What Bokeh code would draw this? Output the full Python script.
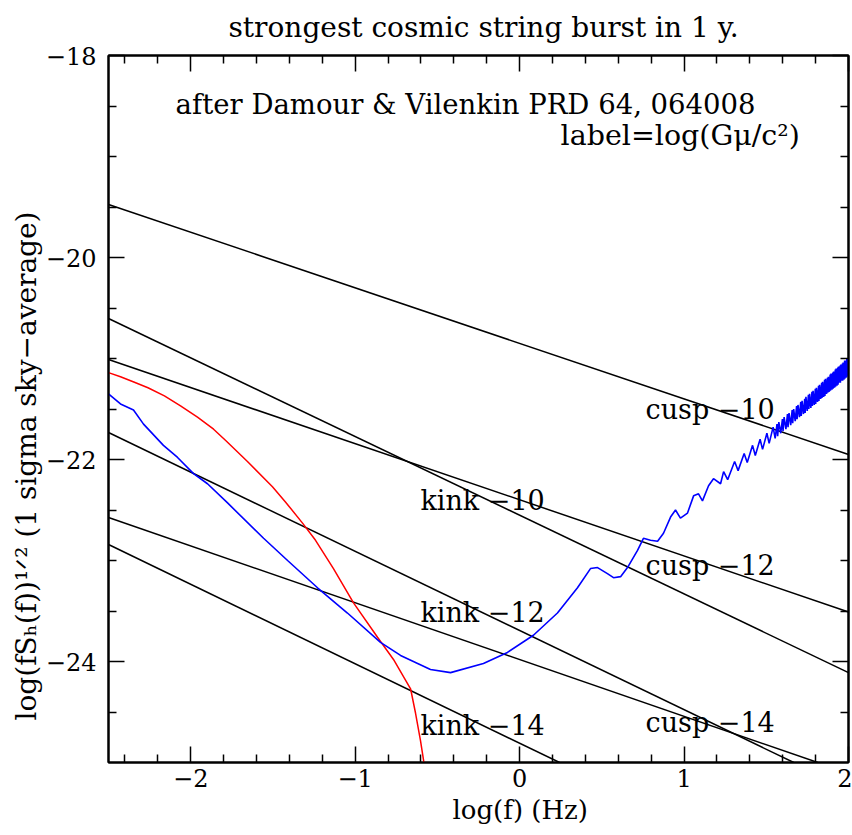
from bokeh.plotting import figure
from bokeh.models import Range1d, LinearAxis, FixedTicker, Label, Title
from bokeh.embed import file_html
from bokeh.resources import INLINE

FONT = "DejaVu Serif"

# ---- data ----
# straight lines: two points each (log f, log amplitude)
cusp10_x = [-2.5, 2.0];   cusp10_y = [-19.475, -21.95]
cusp12_x = [-2.5, 2.0];   cusp12_y = [-21.01, -23.51]
cusp14_x = [-2.5, 1.813]; cusp14_y = [-22.574, -25.0]
kink10_x = [-2.5, 2.0];   kink10_y = [-20.604, -24.11]
kink12_x = [-2.5, 1.667]; kink12_y = [-21.733, -25.0]
kink14_x = [-2.5, 0.243]; kink14_y = [-22.842, -25.0]

red_x = [-2.5, -2.427, -2.35, -2.26, -2.16, -2.062, -1.959, -1.861, -1.789, -1.655, -1.503,
         -1.424, -1.320, -1.241, -1.132, -1.010, -0.864, -0.767, -0.663, -0.633, -0.603,
         -0.584, -0.575]
red_y = [-21.14, -21.18, -21.23, -21.29, -21.37, -21.47, -21.58, -21.70, -21.81, -22.02, -22.27,
         -22.42, -22.63, -22.80, -23.08, -23.42, -23.76, -23.98, -24.27, -24.51, -24.78,
         -24.98, -25.10]

blue_x = [-2.5, -2.427, -2.348, -2.287, -2.166, -2.080, -1.983, -1.898, -1.776, -1.557,
          -1.411, -1.229, -1.047, -0.846, -0.724, -0.542, -0.420, -0.220, -0.074, 0.084,
          0.230, 0.352, 0.431, 0.474, 0.534, 0.571, 0.614, 0.656, 0.717, 0.753,
          0.796, 0.839, 0.875, 0.918, 0.948, 0.978, 1.021, 1.058, 1.088, 1.112,
          1.149, 1.179, 1.222,
          1.2405, 1.2652, 1.3075, 1.3287, 1.3655, 1.3841, 1.4166, 1.4332, 1.4624, 1.4774,
          1.5038, 1.5174,
          1.5416, 1.5540, 1.5652, 1.5691, 1.5763, 1.5879, 1.5982, 1.6018,
          1.6085, 1.6193, 1.6289, 1.6323, 1.6385, 1.6485, 1.6575, 1.6607,
          1.6665, 1.6759, 1.6844, 1.6873, 1.6928, 1.7017, 1.7097, 1.7125,
          1.7177, 1.7260, 1.7336, 1.7363, 1.7412, 1.7490, 1.7562, 1.7587,
          1.7634, 1.7709, 1.7778, 1.7802, 1.7846, 1.7918, 1.7983, 1.8006,
          1.8048, 1.8117, 1.8179, 1.8201, 1.8241, 1.8307, 1.8367, 1.8387,
          1.8426, 1.8489, 1.8546, 1.8566, 1.8603, 1.8664, 1.8719, 1.8738,
          1.8774, 1.8832, 1.8885, 1.8903, 1.8938, 1.8994, 1.9045, 1.9063,
          1.9096, 1.9150, 1.9199, 1.9216, 1.9248, 1.9300, 1.9348, 1.9364,
          1.9395, 1.9446, 1.9492, 1.9508, 1.9538, 1.9586, 1.9631, 1.9646,
          1.9675, 1.9723, 1.9766, 1.9781, 1.9809, 1.9855, 1.9897, 1.9912,
          1.9939, 1.9983, 2.004]
blue_y = [-21.35, -21.45, -21.51, -21.65, -21.86, -21.98, -22.14, -22.24, -22.43, -22.78,
          -23.00, -23.27, -23.52, -23.81, -23.94, -24.08, -24.11, -24.02, -23.91, -23.74,
          -23.52, -23.27, -23.08, -23.07, -23.13, -23.17, -23.16, -23.07, -22.90, -22.78,
          -22.80, -22.81, -22.73, -22.57, -22.50, -22.58, -22.53, -22.36, -22.34, -22.41,
          -22.26, -22.19, -22.24,
          -22.12, -22.20, -22.02, -22.11, -21.94, -22.03, -21.86, -21.96, -21.80, -21.90,
          -21.74, -21.84,
          -21.68, -21.79, -21.65, -21.77, -21.63, -21.74, -21.60, -21.72,
          -21.58, -21.70, -21.55, -21.68, -21.54, -21.66, -21.51, -21.64,
          -21.50, -21.62, -21.47, -21.60, -21.46, -21.58, -21.43, -21.57,
          -21.42, -21.55, -21.40, -21.54, -21.38, -21.52, -21.36, -21.50,
          -21.35, -21.49, -21.33, -21.47, -21.32, -21.46, -21.30, -21.45,
          -21.29, -21.43, -21.27, -21.42, -21.26, -21.40, -21.24, -21.39,
          -21.23, -21.38, -21.21, -21.37, -21.20, -21.35, -21.19, -21.34,
          -21.18, -21.33, -21.16, -21.32, -21.15, -21.31, -21.14, -21.30,
          -21.13, -21.29, -21.11, -21.28, -21.10, -21.27, -21.09, -21.26,
          -21.08, -21.24, -21.07, -21.24, -21.06, -21.22, -21.05, -21.22,
          -21.04, -21.21, -21.02, -21.20, -21.02, -21.19, -21.00, -21.18,
          -21.00, -21.17, -20.98]

x_ticks = [-2, -1, 0, 1, 2]
x_tick_labels = ["\u22122", "\u22121", "0", "1", "2"]
x_minor_ticks = [-2.4, -2.2, -1.8, -1.6, -1.4, -1.2, -0.8, -0.6, -0.4, -0.2,
                 0.2, 0.4, 0.6, 0.8, 1.2, 1.4, 1.6, 1.8]
y_ticks = [-24, -22, -20, -18]
y_tick_labels = ["\u221224", "\u221222", "\u221220", "\u221218"]
y_minor_ticks = [-24.5, -23.5, -23, -22.5, -21.5, -21, -20.5, -19.5, -19, -18.5]

line_labels = ["kink \u221210", "kink \u221212", "kink \u221214",
               "cusp \u221210", "cusp \u221212", "cusp \u221214"]
label_x = [-0.603, -0.603, -0.603, 0.766, 0.766, 0.766]
label_y = [-22.41, -23.51, -24.63, -21.50, -23.05, -24.60]

title_text = "strongest cosmic string burst in 1 y."
note1 = "after Damour & Vilenkin PRD 64, 064008"
note2 = "label=log(G\u03bc/c\u00b2)"
xlabel = "log(f)  (Hz)"
ylabel = "log(fS\u2095(f))\u00b9\u141f\u00b2  (1 sigma sky\u2212average)"

# ---- figure ----
p = figure(width=852, height=835, x_range=Range1d(-2.5, 2.0), y_range=Range1d(-25, -18),
           min_border_left=108, min_border_right=4, min_border_top=55, min_border_bottom=73,
           output_backend="svg", toolbar_location=None, x_axis_location=None,
           y_axis_location=None)
p.grid.visible = False
p.outline_line_color = "black"
p.outline_line_width = 2
p.background_fill_color = "white"
p.border_fill_color = "white"


def style(ax, show):
    ax.major_tick_in = 16
    ax.major_tick_out = 0
    ax.minor_tick_in = 8
    ax.minor_tick_out = 0
    ax.major_tick_line_color = "black"
    ax.minor_tick_line_color = "black"
    ax.major_tick_line_width = 1.5
    ax.minor_tick_line_width = 1.5
    ax.axis_line_color = "black"
    ax.axis_line_width = 2
    ax.major_label_text_font = FONT
    if show:
        ax.major_label_text_color = "black"
        ax.major_label_text_font_size = "24px"
    else:
        ax.major_label_text_color = None
        ax.major_label_text_font_size = "1px"
        ax.major_label_standoff = 0


xt = FixedTicker(ticks=x_ticks, minor_ticks=x_minor_ticks)
yt = FixedTicker(ticks=y_ticks, minor_ticks=y_minor_ticks)

bx = LinearAxis(ticker=xt, major_label_overrides=dict(zip(x_ticks, x_tick_labels)))
style(bx, True); bx.major_label_standoff = 6
tx = LinearAxis(ticker=xt); style(tx, False)
ly = LinearAxis(ticker=yt, major_label_overrides=dict(zip(y_ticks, y_tick_labels)))
style(ly, True); ly.major_label_standoff = 12
ry = LinearAxis(ticker=yt); style(ry, False)
p.add_layout(bx, "below")
p.add_layout(tx, "above")
p.add_layout(ly, "left")
p.add_layout(ry, "right")

p.add_layout(Title(text=title_text, text_font=FONT, text_font_size="28px", text_font_style="normal",
                   text_color="black", align="left", offset=120, standoff=20,
                   vertical_align="top"), "above")
p.add_layout(Title(text=xlabel, text_font=FONT, text_font_size="26px", text_font_style="normal",
                   text_color="black", align="left", offset=344, standoff=6), "below")
p.add_layout(Title(text=ylabel, text_font=FONT, text_font_size="28px", text_font_style="normal",
                   text_color="black", align="left", offset=42, standoff=0), "left")

for xs, ys in [(cusp10_x, cusp10_y), (cusp12_x, cusp12_y), (cusp14_x, cusp14_y),
               (kink10_x, kink10_y), (kink12_x, kink12_y), (kink14_x, kink14_y)]:
    p.line(xs, ys, line_color="black", line_width=1.5)

p.line(red_x, red_y, line_color="#ff0000", line_width=1.5)
p.line(blue_x, blue_y, line_color="#0000ff", line_width=1.6)

for t, lx, lyv in zip(line_labels, label_x, label_y):
    p.add_layout(Label(x=lx, y=lyv, text=t, text_font=FONT, text_font_size="27px",
                       text_baseline="middle", text_align="left", text_color="black"))

p.add_layout(Label(x=-2.092, y=-18.485, text=note1, text_font=FONT, text_font_size="27.5px",
                   text_baseline="middle", text_align="left", text_color="black"))
p.add_layout(Label(x=0.249, y=-18.79, text=note2, text_font=FONT, text_font_size="28.5px",
                   text_baseline="middle", text_align="left", text_color="black"))

open("out.html", "w").write(file_html(p, INLINE))
